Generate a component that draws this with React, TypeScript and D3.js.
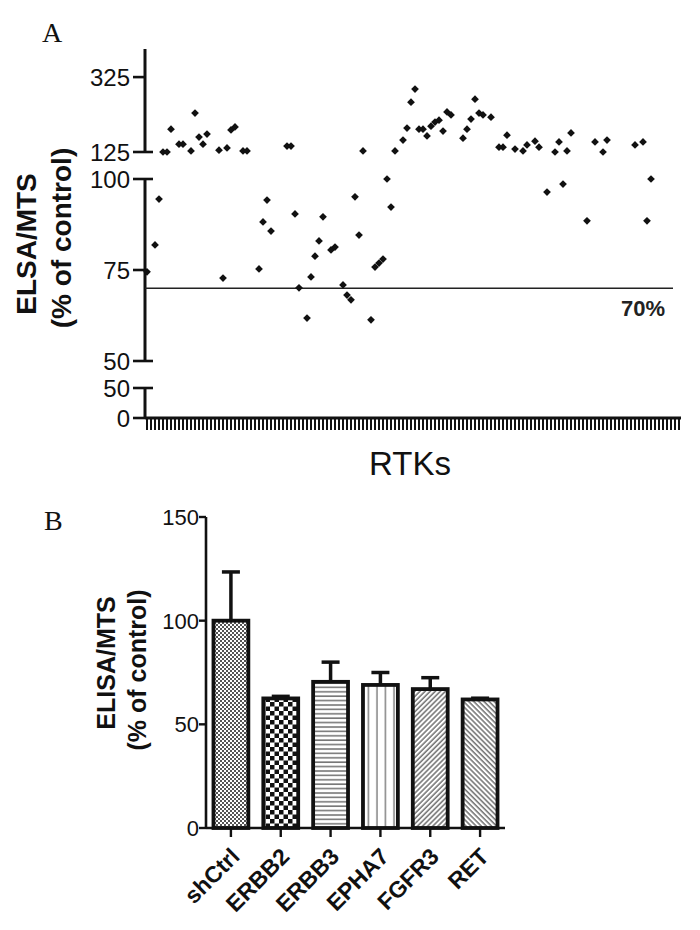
import React from 'react';
import * as d3 from 'd3';

// ---------- Panel A data ----------
const rtkCount = 134;
const rtkIndex = [0, 2, 3, 4, 5, 6, 8, 9, 11, 12, 13, 14, 15, 18, 19, 20, 21, 22, 24, 25, 28, 29, 30, 31, 35, 36, 37, 38, 40, 41, 42, 43, 44, 46, 47, 49, 50, 51, 52, 53, 54, 56, 57, 58, 59, 60, 61, 62, 64, 65, 66, 67, 68, 69, 70, 71, 72, 73, 74, 75, 76, 79, 80, 81, 82, 83, 84, 86, 88, 89, 90, 92, 94, 95, 97, 98, 100, 102, 103, 104, 105, 106, 110, 112, 114, 115, 122, 124, 125, 126];
const rtkValue = [74.5, 81.9, 94.5, 125, 125, 186, 146, 146, 128, 229, 165, 146, 173, 130, 72.8, 136, 184, 192, 128, 128, 75.3, 88.2, 94.2, 85.7, 141, 141, 90.4, 70.1, 61.8, 73.1, 78.8, 83.0, 89.6, 80.5, 81.3, 70.9, 68.1, 66.8, 95.1, 84.6, 128, 61.3, 75.8, 76.9, 78.0, 100, 92.3, 128, 157, 189, 258, 293, 186, 186, 168, 194, 205, 210, 181, 232, 224, 162, 186, 213, 266, 229, 224, 218, 138, 138, 170, 133, 128, 144, 154, 138, 96.4, 125, 152, 98.6, 128, 176, 88.5, 152, 125, 157, 144, 152, 88.5, 100];
const topTicks = [325, 125];
const midTicks = [100, 75, 50];
const lowTicks = [50, 0];
const thresholdValue = 70;

// ---------- Panel B data ----------
const bCategories = ['shCtrl', 'ERBB2', 'ERBB3', 'EPHA7', 'FGFR3', 'RET'];
const bMeans = [100, 62.5, 70.5, 69, 67, 62];
const bErrors = [23.5, 1, 9.5, 6, 5.5, 0.6];
const bTicks = [0, 50, 100, 150];

const FONT = 'Liberation Sans, Arial, sans-serif';

export default function App() {
  // Panel A scales (broken y axis)
  const axX = 145;
  const xA = d3.scalePoint<number>().domain(d3.range(rtkCount)).range([147, 679]);
  const yTop = d3.scaleLinear().domain([125, 400]).range([152, 49]);
  const yMid = d3.scaleLinear().domain([50, 100]).range([361, 179]);
  const yLow = d3.scaleLinear().domain([0, 50]).range([418, 388]);
  const yA = (v: number) => (v >= 125 ? yTop(v) : v >= 50 ? yMid(v) : yLow(v));
  const segments = [
    { s: yTop, ticks: topTicks, breakBottom: true, breakTop: false },
    { s: yMid, ticks: midTicks, breakBottom: true, breakTop: true },
    { s: yLow, ticks: lowTicks, breakBottom: false, breakTop: true },
  ];
  const diamond = d3.symbol().type(d3.symbolSquare).size(30)() as string;

  // Panel B scales
  const xB = d3.scaleBand<string>().domain(bCategories).range([206, 505]).paddingInner(0.3).paddingOuter(0.15);
  const yB = d3.scaleLinear().domain([0, 150]).range([828, 517]);
  const patIds = ['pFine', 'pChecker', 'pHoriz', 'pVert', 'pDiagR', 'pDiagL'];

  return (
    <svg width={700} height={930} style={{ position: 'absolute', left: 0, top: 0, background: '#fff' }}>
      <defs>
        <pattern id="pFine" width={4} height={4} patternUnits="userSpaceOnUse">
          <rect width={4} height={4} fill="#fff" />
          <rect x={0} y={0} width={2} height={2} fill="#555" />
          <rect x={2} y={2} width={2} height={2} fill="#555" />
        </pattern>
        <pattern id="pChecker" width={9} height={9} patternUnits="userSpaceOnUse">
          <rect width={9} height={9} fill="#fff" />
          <rect x={0} y={0} width={4.5} height={4.5} fill="#111" />
          <rect x={4.5} y={4.5} width={4.5} height={4.5} fill="#111" />
        </pattern>
        <pattern id="pHoriz" width={4.4} height={4.4} patternUnits="userSpaceOnUse">
          <rect width={4.4} height={4.4} fill="#fff" />
          <line x1={0} x2={4.4} y1={1} y2={1} stroke="#777" strokeWidth={1.6} />
        </pattern>
        <pattern id="pVert" width={8.5} height={8.5} patternUnits="userSpaceOnUse">
          <rect width={8.5} height={8.5} fill="#fff" />
          <line x1={3} x2={3} y1={0} y2={8.5} stroke="#888" strokeWidth={1.6} />
        </pattern>
        <pattern id="pDiagR" width={3.6} height={3.6} patternUnits="userSpaceOnUse" patternTransform="rotate(45)">
          <rect width={3.6} height={3.6} fill="#fff" />
          <line x1={1} x2={1} y1={0} y2={3.6} stroke="#666" strokeWidth={1.4} />
        </pattern>
        <pattern id="pDiagL" width={3.6} height={3.6} patternUnits="userSpaceOnUse" patternTransform="rotate(-45)">
          <rect width={3.6} height={3.6} fill="#fff" />
          <line x1={1} x2={1} y1={0} y2={3.6} stroke="#666" strokeWidth={1.4} />
        </pattern>
      </defs>

      {/* ================= Panel A ================= */}
      <text x={42} y={42} fontFamily="Liberation Serif, serif" fontSize={28} fill="#111">A</text>

      <text transform="translate(36,244) rotate(-90)" textAnchor="middle" fontFamily={FONT} fontWeight="bold" fontSize={28} fill="#111">ELSA/MTS</text>
      <text transform="translate(71,238) rotate(-90)" textAnchor="middle" fontFamily={FONT} fontWeight="bold" fontSize={28} fill="#111">(% of control)</text>

      {segments.map((seg, si) => {
        const [r0, r1] = seg.s.range();
        return (
          <g key={si}>
            <line x1={axX} x2={axX} y1={r0} y2={r1} stroke="#111" strokeWidth={3} />
            {seg.ticks.map((t, ti) => {
              const y = seg.s(t);
              const dom = seg.s.domain();
              const isBreak = (t === dom[0] && seg.breakBottom) || (t === dom[1] && seg.breakTop);
              return (
                <g key={ti}>
                  <line x1={133} x2={isBreak ? 153 : axX} y1={y} y2={y} stroke="#111" strokeWidth={2.6} />
                  <text x={130} y={y} dy="0.36em" textAnchor="end" fontFamily={FONT} fontSize={24} fill="#111">{t}</text>
                </g>
              );
            })}
          </g>
        );
      })}

      {/* x axis with dense ticks */}
      {xA.domain().map((d) => (
        <line key={d} x1={xA(d)} x2={xA(d)} y1={yLow(0)} y2={yLow(0) + 12} stroke="#111" strokeWidth={2} />
      ))}
      <line x1={axX} x2={681} y1={yLow(0)} y2={yLow(0)} stroke="#111" strokeWidth={3} />
      <text x={410} y={475} textAnchor="middle" fontFamily={FONT} fontSize={33} fill="#111">RTKs</text>

      {/* 70% threshold line */}
      <line x1={axX} x2={673} y1={yA(thresholdValue)} y2={yA(thresholdValue)} stroke="#222" strokeWidth={1.5} />
      <text x={665} y={316} textAnchor="end" fontFamily={FONT} fontWeight="bold" fontSize={22} fill="#222">70%</text>

      {rtkIndex.map((idx, k) => (
        <path key={k} d={diamond} transform={`translate(${xA(idx)},${yA(rtkValue[k])}) rotate(45)`} fill="#111" />
      ))}

      {/* ================= Panel B ================= */}
      <text x={44} y={530} fontFamily="Liberation Serif, serif" fontSize={28} fill="#111">B</text>

      <text transform="translate(115,663) rotate(-90)" textAnchor="middle" fontFamily={FONT} fontWeight="bold" fontSize={25} fill="#111">ELISA/MTS</text>
      <text transform="translate(146,670) rotate(-90)" textAnchor="middle" fontFamily={FONT} fontWeight="bold" fontSize={25} fill="#111">(% of control)</text>

      <line x1={206} x2={206} y1={yB(150)} y2={yB(0)} stroke="#111" strokeWidth={2.6} />
      {bTicks.map((t) => (
        <g key={t}>
          <line x1={199} x2={206} y1={yB(t)} y2={yB(t)} stroke="#111" strokeWidth={2.4} />
          <text x={199} y={yB(t)} dy="0.36em" textAnchor="end" fontFamily={FONT} fontSize={22} fill="#111">{t}</text>
        </g>
      ))}

      {bCategories.map((c, i) => {
        const x = xB(c)!;
        const w = xB.bandwidth();
        const cx = x + w / 2;
        return (
          <g key={c}>
            <line x1={cx} x2={cx} y1={yB(bMeans[i])} y2={yB(bMeans[i] + bErrors[i])} stroke="#111" strokeWidth={3.5} />
            <line x1={cx - 9} x2={cx + 9} y1={yB(bMeans[i] + bErrors[i])} y2={yB(bMeans[i] + bErrors[i])} stroke="#111" strokeWidth={3.5} />
            <rect x={x} y={yB(bMeans[i])} width={w} height={yB(0) - yB(bMeans[i])} fill={`url(#${patIds[i]})`} stroke="#111" strokeWidth={3.8} />
            <line x1={cx} x2={cx} y1={yB(0)} y2={yB(0) + 9} stroke="#111" strokeWidth={2.4} />
            <text transform={`translate(${cx + 10},${yB(0) + 30}) rotate(-45)`} textAnchor="end" fontFamily={FONT} fontWeight="bold" fontSize={23} fill="#111">{c}</text>
          </g>
        );
      })}
      <line x1={206} x2={505} y1={yB(0)} y2={yB(0)} stroke="#111" strokeWidth={2.6} />
    </svg>
  );
}
